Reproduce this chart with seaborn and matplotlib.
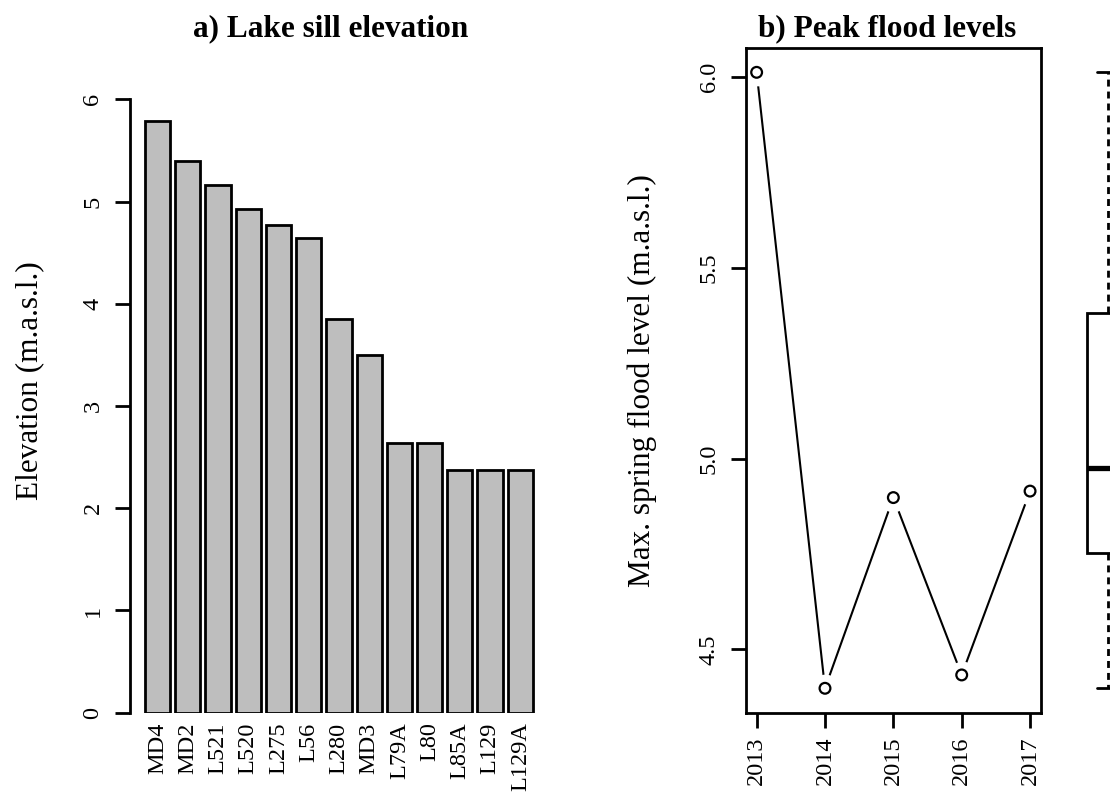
import matplotlib
matplotlib.use("Agg")
import matplotlib.pyplot as plt
import seaborn as sns
import pandas as pd

# Lake sill elevations (m.a.s.l.)
lakes = ["MD4", "MD2", "L521", "L520", "L275", "L56", "L280", "MD3",
         "L79A", "L80", "L85A", "L129", "L129A"]
sill_elevation = [5.79, 5.40, 5.16, 4.93, 4.77, 4.64, 3.85, 3.50,
                  2.64, 2.64, 2.37, 2.37, 2.37]

# Peak spring flood levels per year (m.a.s.l.)
years = [2013, 2014, 2015, 2016, 2017]
peak_level = [6.013, 4.398, 4.898, 4.433, 4.915]

# Five-number summary drawn as the box on the right: min, Q1, median, Q3, max
box_summary = [4.398, 4.753, 4.975, 5.381, 6.013]

elev_ticks = [0, 1, 2, 3, 4, 5, 6]
level_ticks = [4.5, 5.0, 5.5, 6.0]

sns.set_theme(style="white")
plt.rcParams["font.family"] = ["Liberation Serif", "DejaVu Serif"]
plt.rcParams["axes.linewidth"] = 2.0

W, H = 1110, 796
fig = plt.figure(figsize=(W / 100, H / 100), dpi=100)
fig.patch.set_facecolor("white")


def px_axes(left, right, top, bottom):
    return fig.add_axes([left / W, 1 - bottom / H, (right - left) / W, (bottom - top) / H])


TICK = 17.5
LAB = 22.5
TL = 10.8
LW = 2.0

# ---- a) bar chart of sill elevations ----
ax_a = px_axes(129.5, 548.4, 48.3, 712.7)
df_a = pd.DataFrame({"lake": lakes, "elev": sill_elevation})
sns.barplot(data=df_a, x="lake", y="elev", ax=ax_a, color="#BEBEBE",
            edgecolor="black", linewidth=LW, saturation=1, width=1 / 1.2)
ax_a.set_xlim(-0.93, len(lakes) - 1 + 0.93)
ax_a.set_ylim(0, 6.5)
for s in ["top", "right", "bottom"]:
    ax_a.spines[s].set_visible(False)
ax_a.spines["left"].set_bounds(0, 6)
ax_a.spines["left"].set_color("black")
ax_a.spines["left"].set_linewidth(LW)
ax_a.set_yticks(elev_ticks)
ax_a.set_yticklabels([str(t) for t in elev_ticks])
ax_a.tick_params(axis="y", left=True, length=TL, width=LW, color="black",
                 labelsize=TICK, pad=8.0, labelcolor="black")
ax_a.tick_params(axis="x", bottom=False, length=0, labelsize=TICK, pad=7,
                 labelcolor="black", labelrotation=90)
for lab in ax_a.get_yticklabels():
    lab.set_rotation(90)
    lab.set_va("center")
for lab in ax_a.get_xticklabels():
    lab.set_va("top")
    lab.set_ha("center")
ax_a.set_xlabel("")
ax_a.set_ylabel("Elevation (m.a.s.l.)", fontsize=LAB, color="black",
                ha="center", va="center")
ax_a.yaxis.set_label_coords((29.5 - 129.5) / (548.4 - 129.5), 0.5)
ax_a.set_title("a) Lake sill elevation", fontsize=LAB, fontweight="bold",
               x=(331 - 129.5) / (548.4 - 129.5), y=(712.7 - 36.7) / 664.4,
               pad=0, va="baseline", color="black")

# ---- b) peak flood levels ----
bl, br = 745.7, 1041.0
ax_b = px_axes(bl, br, 48.3, 712.7)
sns.lineplot(x=years, y=peak_level, ax=ax_b, color="black", linewidth=1.5,
             zorder=2)
# white disks leave a gap in the line around each point
sns.scatterplot(x=years, y=peak_level, ax=ax_b, color="white", s=400,
                linewidth=0, zorder=2.2)
sns.scatterplot(x=years, y=peak_level, ax=ax_b, marker="o", s=60,
                facecolor="none", edgecolor="black", linewidth=1.6, zorder=2.4)
ax_b.set_xlim(2012.84, 2017.16)
ax_b.set_ylim(4.334, 6.076)
for s in ax_b.spines.values():
    s.set_visible(True)
    s.set_color("black")
    s.set_linewidth(LW)
ax_b.set_xticks(years)
ax_b.set_xticklabels([str(y) for y in years])
ax_b.set_yticks(level_ticks)
ax_b.set_yticklabels([f"{t:.1f}" for t in level_ticks])
ax_b.tick_params(axis="both", length=TL, width=LW, color="black",
                 labelsize=TICK, labelcolor="black")
ax_b.tick_params(axis="y", left=True, pad=8.0)
ax_b.tick_params(axis="x", bottom=True, pad=6.0, labelrotation=90)
for lab in ax_b.get_yticklabels():
    lab.set_rotation(90)
    lab.set_va("center")
ax_b.set_ylabel("Max. spring flood level (m.a.s.l.)", fontsize=LAB,
                color="black", ha="center", va="center")
ax_b.yaxis.set_label_coords((642.4 - bl) / (br - bl), 0.5)
ax_b.set_title("b) Peak flood levels", fontsize=LAB, fontweight="bold",
               x=(887 - bl) / (br - bl), y=(712.7 - 36.7) / 664.4,
               pad=0, va="baseline", color="black")

# ---- boxplot at the right edge ----
ax_c = px_axes(1058, 1158, 48.3, 712.7)
sns.boxplot(y=box_summary, ax=ax_c, whis=(0, 100), width=0.426,
            color="white", linecolor="black", linewidth=LW, saturation=1,
            medianprops=dict(linewidth=3.8, color="black"),
            whiskerprops=dict(linestyle=(0, (2.5, 1.8)), linewidth=LW),
            capprops=dict(linewidth=LW),
            boxprops=dict(facecolor="white", edgecolor="black", linewidth=LW))
ax_c.set_xlim(-0.5, 0.5)
ax_c.set_ylim(4.334, 6.076)
ax_c.axis("off")

fig.savefig("out.png", dpi=100, facecolor="white")
